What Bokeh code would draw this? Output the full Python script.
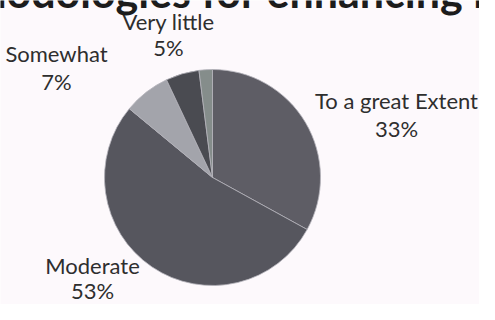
import numpy as np
from bokeh.plotting import figure
from bokeh.models import ColumnDataSource, Range1d, Label
from bokeh.core.properties import value
from bokeh.embed import file_html
from bokeh.resources import INLINE

# ---- data ----
categories = ["To a great Extent", "Moderate", "Somewhat", "Very little", "Not at all"]
percents = [33, 53, 7, 5, 2]
show_label = [True, True, True, True, False]
title_text = "Methodologies for enhancing learning"

# ---- styles / layout ----
colors = ["#5e5d65", "#56565e", "#a3a4ab", "#4a4b51", "#858d8b"]
W, H = 479, 304
BG = "#fdf9fc"

def px(X):  # picture x -> data x
    return X

def py(Y):  # picture y -> data y
    return H - Y

p = figure(width=W, height=H, x_range=Range1d(0, W), y_range=Range1d(0, H),
           output_backend="svg", toolbar_location=None, min_border=0)
p.axis.visible = False
p.grid.visible = False
p.outline_line_color = None
p.background_fill_color = BG
p.border_fill_color = BG

cx, cy, r = px(212), py(177), 108
frac = np.array(percents, dtype=float) / sum(percents)
cum = np.concatenate([[0.0], np.cumsum(frac)])
start = np.pi / 2 - cum[:-1] * 2 * np.pi
end = np.pi / 2 - cum[1:] * 2 * np.pi
src = ColumnDataSource(dict(start=start, end=end, color=colors, cat=categories))
p.wedge(x=cx, y=cy, radius=r, start_angle="start", end_angle="end",
        direction="clock", fill_color="color", line_color="#b4b3ba",
        line_width=0.8, source=src)

# label placement (picture coords: center x, name line y, percent line y)
label_pos = {
    "To a great Extent": (396, 100, 128),
    "Moderate": (92, 265, 290),
    "Somewhat": (56, 53, 81),
    "Very little": (168, 21, 47),
}
lx, ly, lt = [], [], []
for cat, pc, show in zip(categories, percents, show_label):
    if not show:
        continue
    X, Y1, Y2 = label_pos[cat]
    lx += [px(X), px(X)]
    ly += [py(Y1), py(Y2)]
    lt += [cat, f"{pc}%"]
lsrc = ColumnDataSource(dict(x=lx, y=ly, t=lt))
p.text(x="x", y="y", text="t", source=lsrc, text_font=value("Lato"),
       text_font_size="22px", text_align="center", text_baseline="middle",
       text_color="#2e2e2e")

# title (partly cut off at the top, as in the scan)
p.add_layout(Label(x=px(-97), y=py(-9), text=title_text, text_font="Lato",
                   text_font_style="bold", text_font_size="43px",
                   text_align="left", text_baseline="middle",
                   text_color="#1c1c1c"))

open("out.html", "w").write(file_html(p, INLINE))
